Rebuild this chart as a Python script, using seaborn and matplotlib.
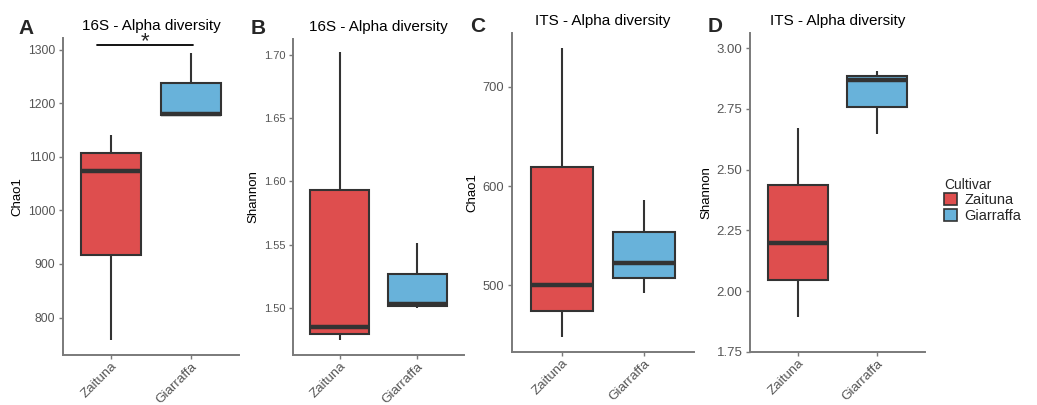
import pandas as pd
import matplotlib.pyplot as plt
import matplotlib.patches as mpatches
import seaborn as sns
import numpy as np

# three samples per cultivar (min / median / max)
cultivars = ["Zaituna", "Giarraffa"]
colors = ["#DE4E4E", "#68B2DA"]

chao1_16s_zaituna = [758, 1074, 1141]
chao1_16s_giarraffa = [1176, 1181, 1294]
shannon_16s_zaituna = [1.4748, 1.4845, 1.7018]
shannon_16s_giarraffa = [1.4995, 1.503, 1.551]
chao1_its_zaituna = [448, 500, 739]
chao1_its_giarraffa = [492, 522.5, 586]
shannon_its_zaituna = [1.895, 2.198, 2.672]
shannon_its_giarraffa = [2.646, 2.867, 2.906]

titles = ["16S - Alpha diversity", "16S - Alpha diversity",
          "ITS - Alpha diversity", "ITS - Alpha diversity"]
ylabels = ["Chao1", "Shannon", "Chao1", "Shannon"]
letters = ["A", "B", "C", "D"]
yticks = [[800, 900, 1000, 1100, 1200, 1300],
          [1.50, 1.55, 1.60, 1.65, 1.70],
          [500, 600, 700],
          [1.75, 2.00, 2.25, 2.50, 2.75, 3.00]]
ytick_fmt = ["{:.0f}", "{:.2f}", "{:.0f}", "{:.2f}"]
ylims = [(730, 1322), (1.4627, 1.7124), (433, 754), (1.75, 3.062)]

series = [(chao1_16s_zaituna, chao1_16s_giarraffa),
          (shannon_16s_zaituna, shannon_16s_giarraffa),
          (chao1_its_zaituna, chao1_its_giarraffa),
          (shannon_its_zaituna, shannon_its_giarraffa)]

sns.set_style("white")
plt.rcParams['font.family'] = ['Liberation Sans', 'DejaVu Sans']

fig = plt.figure(figsize=(10.37, 4.05), dpi=100)
W, H = 1037, 405
# axes boxes in pixels: left, right, top, bottom
boxes = [(63, 239, 38, 355), (293, 464, 39, 355),
         (512, 694, 33, 352), (750, 925, 33, 352)]
letter_pos = [(26, 28), (258, 28), (478, 27), (715, 27)]
ytick_size = [8.7, 8.0, 9.3, 9.5]

axis_gray = "#7a7a7a"
tick_gray = "#555555"

for i in range(4):
    l, r, t, b = boxes[i]
    ax = fig.add_axes([l / W, (H - b) / H, (r - l) / W, (b - t) / H])
    z, g = series[i]
    df = pd.DataFrame({"Cultivar": [cultivars[0]] * len(z) + [cultivars[1]] * len(g),
                       "value": z + g})
    sns.boxplot(data=df, x="Cultivar", y="value", hue="Cultivar", order=cultivars,
                hue_order=cultivars, palette=colors, saturation=1, width=0.75, dodge=False,
                linecolor="#333333", linewidth=1.5, showcaps=False, whis=1.5,
                medianprops=dict(linewidth=3.2, color="#333333"),
                legend=False, ax=ax)
    ax.set_xlim(-0.6, 1.6)
    ax.set_ylim(*ylims[i])
    ax.set_yticks(yticks[i])
    ax.set_yticklabels([ytick_fmt[i].format(v) for v in yticks[i]])
    ax.set_xlabel("")
    ax.set_ylabel(ylabels[i], fontsize=9.5, color="black", labelpad=3)
    ax.set_title(titles[i], fontsize=11, color="black", pad=6)
    for s in ["top", "right"]:
        ax.spines[s].set_visible(False)
    for s in ["left", "bottom"]:
        ax.spines[s].set_color(axis_gray)
        ax.spines[s].set_linewidth(1.4)
    ax.tick_params(axis="both", which="both", direction="out", length=3, width=1,
                   color=axis_gray, labelcolor=tick_gray, left=True, bottom=True)
    ax.tick_params(axis="y", labelsize=ytick_size[i], pad=2.5)
    ax.tick_params(axis="x", labelsize=9.6, pad=1)
    plt.setp(ax.get_xticklabels(), rotation=45, ha="right", rotation_mode="anchor")
    fig.text(letter_pos[i][0] / W, 1 - letter_pos[i][1] / H, letters[i],
             fontsize=15, fontweight="bold", ha="center", va="center")

    if i == 0:
        # significance bar
        ax.plot([-0.18, 1.03], [1309, 1309], color="black", lw=1.3, clip_on=False)
        ax.text(0.42, 1296, "*", ha="center", va="bottom", fontsize=16, clip_on=False)

handles = [mpatches.Patch(facecolor=c, edgecolor="#333333", linewidth=1.2, label=n)
           for c, n in zip(colors, cultivars)]
fig.legend(handles=handles, title="Cultivar", loc="upper left",
           bbox_to_anchor=(938 / W, 1 - 172 / H), frameon=False, fontsize=10.5,
           title_fontsize=10, alignment="left", handlelength=0.9, handleheight=0.9,
           handletextpad=0.5, labelspacing=0.1, borderaxespad=0)

fig.savefig("out.png", dpi=100)
